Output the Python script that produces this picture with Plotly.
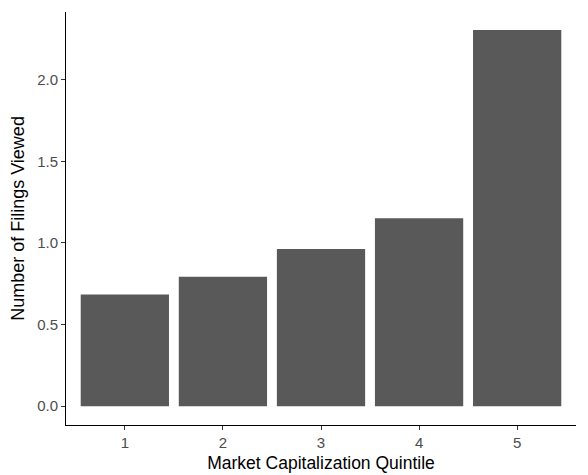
import plotly.graph_objects as go

# Data
quintiles = ["1", "2", "3", "4", "5"]
filings_viewed = [0.685, 0.793, 0.963, 1.151, 2.305]

BAR_COLOR = "#595959"
FONT = "Liberation Sans, Arial, sans-serif"

fig = go.Figure()

fig.add_trace(go.Bar(
    x=quintiles,
    y=filings_viewed,
    width=0.9,
    marker=dict(color=BAR_COLOR, line=dict(width=0)),
    showlegend=False,
))

# page body has an 8px margin, so the figure is sized 8px smaller
fig.update_layout(
    width=580, height=467,
    margin=dict(l=58, r=12, t=4, b=50, autoexpand=False),
    plot_bgcolor="white",
    paper_bgcolor="white",
    font=dict(family=FONT, color="black"),
    bargap=0.1,
    xaxis=dict(
        title=dict(text="Market Capitalization Quintile", font=dict(size=17.5, color="black"), standoff=6),
        type="category",
        range=[-0.6, 4.6],
        automargin=False,
        showline=True, linecolor="black", linewidth=1,
        ticks="outside", ticklen=4, tickcolor="#333333", tickwidth=1,
        tickfont=dict(size=15, color="#4D4D4D"),
        showgrid=False, zeroline=False,
    ),
    yaxis=dict(
        title=dict(text="Number of Filings Viewed", font=dict(size=18, color="black"), standoff=9),
        range=[-0.115, 2.415],
        tickvals=[0, 0.5, 1.0, 1.5, 2.0],
        ticktext=["0.0", "0.5", "1.0", "1.5", "2.0"],
        automargin=False,
        showline=True, linecolor="black", linewidth=1,
        ticks="outside", ticklen=4, tickcolor="#333333", tickwidth=1,
        tickfont=dict(size=15, color="#4D4D4D"),
        showgrid=False, zeroline=False,
    ),
)

fig.write_html("out.html")
